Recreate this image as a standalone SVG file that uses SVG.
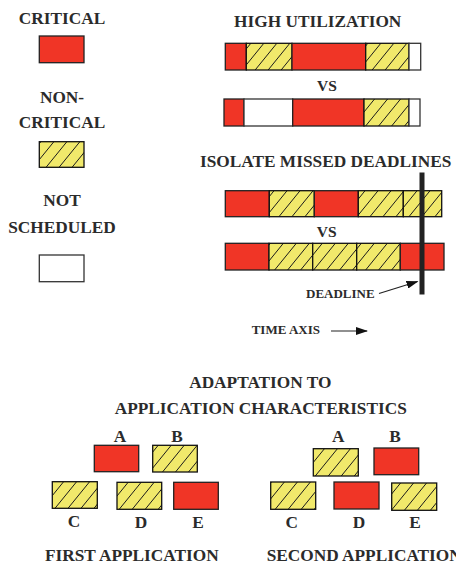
<svg xmlns="http://www.w3.org/2000/svg" width="456" height="564" viewBox="0 0 456 564">
<style>
text{font-family:"Liberation Serif","Times New Roman",serif;font-weight:bold;fill:#2b2b2b}
.t{font-size:17.3px}
.vs{font-size:15.5px}
.s{font-size:13px}
.m{text-anchor:middle}
.r{fill:#f03526;stroke:#222;stroke-width:1.3}
.h{fill:url(#hatch);stroke:#111;stroke-width:1.3}
.w{fill:#fff;stroke:#333;stroke-width:1.3}
.c{stroke:#222;stroke-width:1.2;fill:none}
</style>
<defs>
<pattern id="hatch" patternUnits="userSpaceOnUse" width="13" height="16">
<rect width="13" height="16" fill="#f1e96b"/>
<path d="M0,16L13,0M-13,16L0,0M13,16L26,0" stroke="#1a1a1a" stroke-width="1"/>
</pattern>
<marker id="ah" markerUnits="userSpaceOnUse" markerWidth="12" markerHeight="8" refX="11" refY="4" orient="auto">
<path d="M0,0L12,4L0,8Z" fill="#111"/>
</marker>
</defs>
<rect width="456" height="564" fill="#fff"/>

<g id="legend">
<text class="t m" x="62" y="24.3">CRITICAL</text>
<rect class="r" x="39.3" y="36" width="44.7" height="26.7"/>
<text class="t m" x="62" y="103">NON-</text>
<text class="t m" x="62" y="128">CRITICAL</text>
<rect class="h" x="39.3" y="141.7" width="44.7" height="25.6"/>
<text class="t m" x="62" y="205.5">NOT</text>
<text class="t m" x="62" y="232.5">SCHEDULED</text>
<rect class="w" x="39.3" y="255" width="44.7" height="26.7"/>
</g>

<g id="high-utilization">
<text class="t m" x="317.7" y="27.3">HIGH UTILIZATION</text>
<g id="bar1">
<rect class="r" x="225.3" y="43.3" width="21" height="26.7"/>
<rect class="h" x="246.3" y="43.3" width="45.7" height="26.7"/>
<rect class="r" x="292" y="43.3" width="73.7" height="26.7"/>
<rect class="h" x="365.7" y="43.3" width="43.3" height="26.7"/>
<rect class="w" x="409" y="43.3" width="11.7" height="26.7"/>
</g>
<text class="vs m" x="327" y="90.5">VS</text>
<g id="bar2">
<rect class="r" x="224" y="99" width="20" height="27"/>
<rect class="w" x="244" y="99" width="48.7" height="27"/>
<rect class="r" x="292.7" y="99" width="71.3" height="27"/>
<rect class="h" x="364" y="99" width="45" height="27"/>
<rect class="w" x="409" y="99" width="11" height="27"/>
</g>
</g>

<g id="missed-deadlines">
<text class="t" x="200" y="167">ISOLATE MISSED DEADLINES</text>
<g id="bar3">
<rect class="r" x="225.3" y="190.7" width="44" height="26"/>
<rect class="h" x="269.3" y="190.7" width="45" height="26"/>
<rect class="r" x="314.3" y="190.7" width="44" height="26"/>
<rect class="h" x="358.3" y="190.7" width="45" height="26"/>
<rect class="h" x="403.3" y="190.7" width="38.4" height="26"/>
</g>
<text class="vs m" x="326.7" y="237">VS</text>
<g id="bar4">
<rect class="r" x="225.3" y="243.3" width="43.7" height="26.7"/>
<rect class="h" x="269" y="243.3" width="43.7" height="26.7"/>
<rect class="h" x="312.7" y="243.3" width="44" height="26.7"/>
<rect class="h" x="356.7" y="243.3" width="43.6" height="26.7"/>
<rect class="r" x="400.3" y="243.3" width="43.7" height="26.7"/>
</g>
<g id="deadline-line">
<rect x="419.5" y="172.5" width="5" height="122" fill="#222"/>
</g>
<text class="s" x="306" y="298">DEADLINE</text>
<text class="s" x="251.7" y="334">TIME AXIS</text>
</g>

<g id="connectors">
<line class="c" x1="379" y1="293.5" x2="417.5" y2="281.5" marker-end="url(#ah)"/>
<line class="c" x1="331" y1="331" x2="367" y2="331" marker-end="url(#ah)"/>
</g>

<g id="adaptation">
<text class="t m" x="260.3" y="388.3">ADAPTATION TO</text>
<text class="t m" x="260.8" y="414">APPLICATION CHARACTERISTICS</text>
</g>

<g id="first-application">
<g id="f-A"><text class="t m" x="120" y="441.5">A</text><rect class="r" x="94.3" y="445.3" width="44.4" height="26.4"/></g>
<g id="f-B"><text class="t m" x="177" y="441.5">B</text><rect class="h" x="152.7" y="445.3" width="44.6" height="26.7"/></g>
<g id="f-C"><rect class="h" x="52.3" y="481.7" width="45" height="26.6"/><text class="t m" x="74" y="526.5">C</text></g>
<g id="f-D"><rect class="h" x="117" y="482.3" width="44.7" height="27"/><text class="t m" x="141" y="527.5">D</text></g>
<g id="f-E"><rect class="r" x="173.7" y="482.3" width="44.6" height="27"/><text class="t m" x="198" y="527.5">E</text></g>
<text class="t" x="45" y="561">FIRST APPLICATION</text>
</g>

<g id="second-application">
<g id="s-A"><text class="t m" x="338.3" y="441.5">A</text><rect class="h" x="313.3" y="448.7" width="45" height="27.3"/></g>
<g id="s-B"><text class="t m" x="395" y="441.5">B</text><rect class="r" x="374" y="448" width="44.7" height="26.7"/></g>
<g id="s-C"><rect class="h" x="270.7" y="482" width="45" height="27.3"/><text class="t m" x="291.7" y="527.5">C</text></g>
<g id="s-D"><rect class="r" x="334" y="482" width="45" height="27"/><text class="t m" x="359" y="528">D</text></g>
<g id="s-E"><rect class="h" x="391.7" y="483" width="45" height="27.3"/><text class="t m" x="415" y="528">E</text></g>
<text class="t" x="266.7" y="561">SECOND APPLICATION</text>
</g>
</svg>
